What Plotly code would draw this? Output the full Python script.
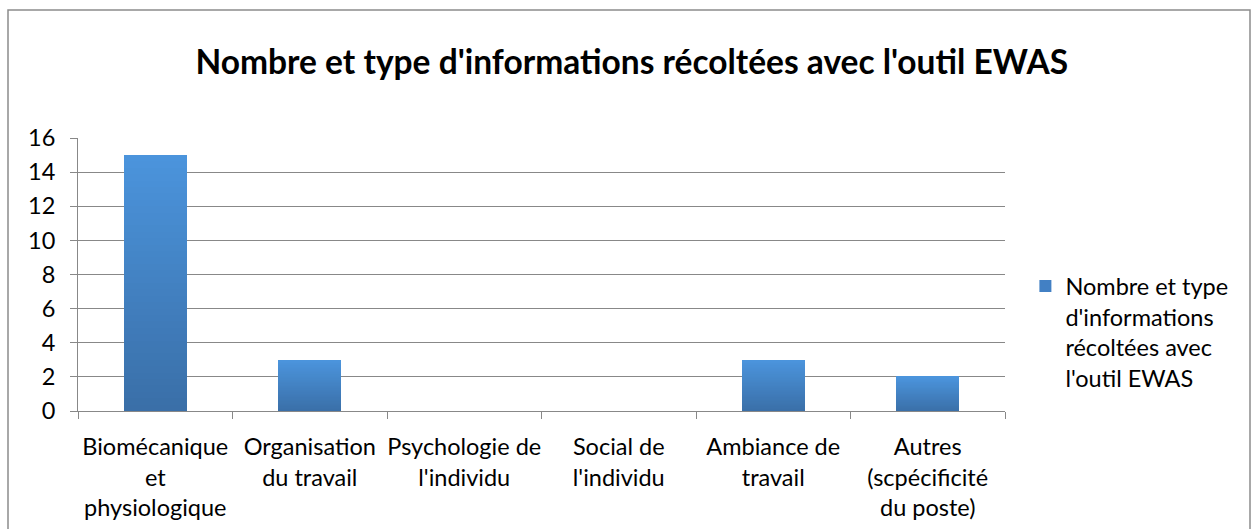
import plotly.graph_objects as go

# Data
categories = [
    "Biomécanique<br>et<br>physiologique",
    "Organisation<br>du travail",
    "Psychologie de<br>l'individu",
    "Social de<br>l'individu",
    "Ambiance de<br>travail",
    "Autres<br>(scpécificité<br>du poste)",
]
values = [15, 3, 0, 0, 3, 2]
series_name = "Nombre et type<br>d'informations<br>récoltées avec<br>l'outil EWAS"
title_text = "Nombre et type d'informations récoltées avec l'outil EWAS"

FONT = "Lato, 'Open Sans', sans-serif"
TEXT_SIZE = 23.5

# Vertical gradient: stack thin slices of each bar, dark at the bottom, light at the top
bottom_rgb = (58, 111, 168)
top_rgb = (75, 148, 220)
n_slices = 40

fig = go.Figure()
for k in range(n_slices):
    t = k / (n_slices - 1)
    rgb = tuple(round(b + (c - b) * t) for b, c in zip(bottom_rgb, top_rgb))
    fig.add_trace(go.Bar(
        x=categories,
        y=[v / n_slices for v in values],
        marker=dict(color="rgb(%d,%d,%d)" % rgb, line=dict(width=0)),
        showlegend=False,
        hoverinfo="skip",
    ))

# Legend entry
fig.add_trace(go.Bar(
    x=categories,
    y=[0] * len(categories),
    name=series_name,
    marker=dict(color="rgb(66,128,196)", line=dict(width=0)),
    showlegend=True,
    hoverinfo="skip",
))

fig.update_layout(
    width=1256,
    height=529,
    barmode="stack",
    bargap=0.59,
    paper_bgcolor="white",
    plot_bgcolor="white",
    margin=dict(l=78, r=251, t=138, b=118, autoexpand=False),
    font=dict(family=FONT, size=TEXT_SIZE, color="black"),
    title=dict(
        text="<b>" + title_text + "</b>",
        x=0.503, xref="container", xanchor="center",
        y=1 - 62 / 529, yanchor="middle",
        font=dict(family=FONT, size=33.5, color="black"),
    ),
    legend=dict(
        x=1.022, xanchor="left",
        y=0.538, yanchor="top",
        font=dict(family=FONT, size=TEXT_SIZE, color="black"),
        valign="top",
        itemwidth=30,
        bgcolor="rgba(0,0,0,0)",
        tracegroupgap=0,
    ),
    xaxis=dict(
        type="category",
        showline=True, linecolor="#888888", linewidth=1,
        ticks="outside", ticklen=7, tickcolor="#888888", tickwidth=1,
        tickson="boundaries",
        tickangle=0,
        automargin=False,
        showgrid=False,
        tickfont=dict(family=FONT, size=TEXT_SIZE, color="black"),
        ticklabelstandoff=15,
    ),
    yaxis=dict(
        range=[0, 16], dtick=2, tick0=0,
        showline=True, linecolor="#888888", linewidth=1,
        ticks="outside", ticklen=7, tickcolor="#888888", tickwidth=1,
        automargin=False,
        showgrid=True, gridcolor="#888888", gridwidth=1,
        zeroline=False,
        tickfont=dict(family=FONT, size=TEXT_SIZE, color="black"),
        ticklabelstandoff=10,
    ),
    shapes=[
        dict(
            type="rect", xref="paper", yref="paper",
            x0=(8 - 78) / 927, x1=(1250 - 78) / 927,
            y0=-0.6, y1=(411 - 10) / 273,
            line=dict(color="#8c8c8c", width=1.5),
            fillcolor="rgba(0,0,0,0)",
            layer="below",
        )
    ],
)

fig.write_html("out.html")
